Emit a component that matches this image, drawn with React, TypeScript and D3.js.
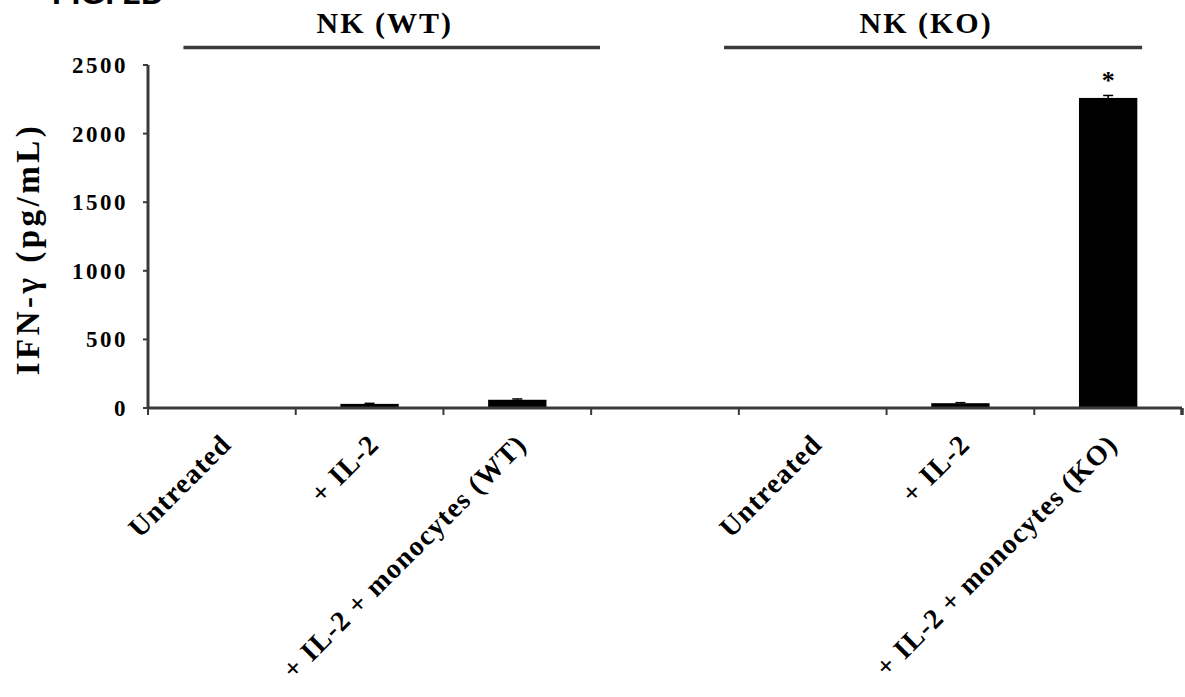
import React from "react";
import * as d3 from "d3";

const categories = [
  "Untreated",
  "+ IL-2",
  "+ IL-2 + monocytes (WT)",
  "",
  "Untreated",
  "+ IL-2",
  "+ IL-2 + monocytes (KO)",
];
const values: (number | null)[] = [0, 30, 60, null, 0, 35, 2260];
const errors: (number | null)[] = [0, 4, 6, null, 0, 4, 18];
const significance = ["", "", "", "", "", "", "*"];
const yTicks = [0, 500, 1000, 1500, 2000, 2500];
const groupLabels = ["NK (WT)", "NK (KO)"];
const groupSpans: [number, number][] = [
  [0.24, 3.06],
  [3.9, 6.73],
];

const W = 1185;
const H = 697;
const left = 148;
const right = 1182;
const top = 65;
const bottom = 408;
const serif = "'Liberation Serif', 'Times New Roman', serif";
const lineColor = "#3a3a3a";

export default function App() {
  const idx = categories.map((_, i) => String(i));
  const x = d3.scaleBand<string>().domain(idx).range([left, right]).padding(0);
  const xi = d3.scaleLinear().domain([0, categories.length]).range([left, right]);
  const y = d3.scaleLinear().domain([0, 2500]).range([bottom, top]);
  const barW = x.bandwidth() * 0.395;

  return (
    <svg
      width={W}
      height={H}
      style={{ position: "absolute", left: 0, top: 0, background: "#fff" }}
    >
      {/* partial figure label at top-left */}
      <text
        x={52}
        y={4}
        fontFamily="'Liberation Sans', Arial, sans-serif"
        fontWeight="bold"
        fontSize={32}
        fill="#000"
      >
        FIG. 2D
      </text>

      {/* group headers */}
      {groupLabels.map((g, i) => {
        const [a, b] = groupSpans[i];
        const cx = (xi(a) + xi(b)) / 2;
        return (
          <g key={g}>
            <text
              x={cx - 7}
              y={33}
              textAnchor="middle"
              fontFamily={serif}
              fontWeight="bold"
              fontSize={30}
              letterSpacing={2}
              fill="#000"
            >
              {g}
            </text>
            <line
              x1={xi(a)}
              x2={xi(b)}
              y1={47.5}
              y2={47.5}
              stroke={lineColor}
              strokeWidth={3.5}
            />
          </g>
        );
      })}

      {/* y axis */}
      <line x1={left} x2={left} y1={top} y2={bottom} stroke={lineColor} strokeWidth={3} />
      {yTicks.map((t) => (
        <g key={t}>
          <line x1={left - 5} x2={left} y1={y(t)} y2={y(t)} stroke={lineColor} strokeWidth={2} />
          <text
            x={128}
            y={y(t)}
            dy="0.35em"
            textAnchor="end"
            fontFamily={serif}
            fontWeight="bold"
            fontSize={23}
            letterSpacing={2.5}
            fill="#000"
          >
            {t}
          </text>
        </g>
      ))}
      <text
        transform={`translate(39, 249) rotate(-90)`}
        textAnchor="middle"
        fontFamily={serif}
        fontWeight="bold"
        fontSize={33}
        letterSpacing={3.5}
        fill="#000"
      >
        IFN-γ (pg/mL)
      </text>

      {/* bars */}
      {values.map((v, i) => {
        if (v === null) return null;
        const cx = (x(String(i)) as number) + x.bandwidth() / 2;
        const e = errors[i] ?? 0;
        return (
          <g key={i}>
            {v > 0 && (
              <rect x={cx - barW / 2} y={y(v)} width={barW} height={bottom - y(v)} fill="#000" />
            )}
            {e > 0 && (
              <g>
                <line x1={cx} x2={cx} y1={y(v)} y2={y(v + e)} stroke="#000" strokeWidth={1.5} />
                <line x1={cx - 5} x2={cx + 5} y1={y(v + e)} y2={y(v + e)} stroke="#000" strokeWidth={1.5} />
              </g>
            )}
            {significance[i] && (
              <text
                x={cx}
                y={y(v + e) - 6}
                textAnchor="middle"
                fontFamily={serif}
                fontWeight="bold"
                fontSize={26}
                fill="#000"
              >
                {significance[i]}
              </text>
            )}
          </g>
        );
      })}

      {/* x axis */}
      <line x1={left} x2={right} y1={bottom} y2={bottom} stroke={lineColor} strokeWidth={3} />
      {d3.range(categories.length + 1).map((k) => (
        <line
          key={k}
          x1={xi(k)}
          x2={xi(k)}
          y1={bottom}
          y2={bottom + 7}
          stroke={lineColor}
          strokeWidth={k === categories.length ? 3.5 : 2}
        />
      ))}
      {categories.map((c, i) => {
        if (!c) return null;
        const cx = (x(String(i)) as number) + x.bandwidth() / 2;
        return (
          <text
            key={i}
            transform={`translate(${cx + 11}, 446) rotate(-45)`}
            textAnchor="end"
            fontFamily={serif}
            fontWeight="bold"
            fontSize={28}
            letterSpacing={1.2}
            fill="#000"
          >
            {c}
          </text>
        );
      })}
    </svg>
  );
}
